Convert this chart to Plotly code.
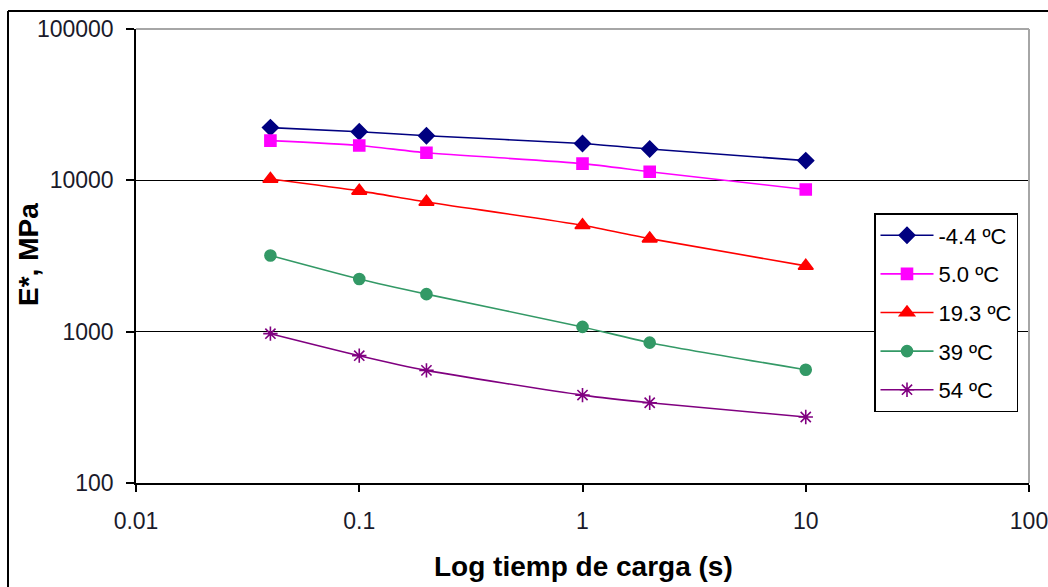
import plotly.graph_objects as go

# Loading times (s) and dynamic modulus E* (MPa) per test temperature
tiempo = [0.04, 0.1, 0.2, 1, 2, 10]
e_m4_4 = [22300, 20950, 19700, 17500, 16100, 13500]
e_5_0 = [18300, 17000, 15200, 12900, 11400, 8700]
e_19_3 = [10200, 8520, 7200, 5050, 4120, 2720]
e_39 = [3190, 2230, 1770, 1075, 846, 560]
e_54 = [970, 694, 555, 381, 339, 273]

series_names = ["-4.4 ºC", "5.0 ºC", "19.3 ºC", "39 ºC", "54 ºC"]
x_ticks = [0.01, 0.1, 1, 10, 100]
y_ticks = [100, 1000, 10000, 100000]

FONT = "Arial, 'Liberation Sans', sans-serif"

styles = [
    dict(color="#000080", symbol="diamond", size=12),
    dict(color="#FF00FF", symbol="square", size=11),
    dict(color="#FF0000", symbol="triangle-up", size=13),
    dict(color="#339966", symbol="circle", size=11),
    dict(color="#800080", symbol="asterisk-open", size=12),
]

fig = go.Figure()
for i, (name, vals, st) in enumerate(zip(series_names, [e_m4_4, e_5_0, e_19_3, e_39, e_54], styles)):
    fig.add_trace(go.Scatter(
        x=tiempo, y=vals, name=name, mode="lines+markers",
        legendgroup=f"g{i}",
        line=dict(color=st["color"], width=1.6, shape="spline", smoothing=0.6),
        marker=dict(symbol=st["symbol"], size=st["size"], color=st["color"],
                    line=dict(color=st["color"], width=1.6)),
    ))

L, R, T, B = 136, 19, 29, 104
W, H = 1048, 587
pw, ph = W - L - R, H - T - B

def px_x(p):
    return (p - L) / pw

def px_y(p):
    return (H - B - p) / ph

fig.update_layout(
    width=W, height=H,
    margin=dict(l=L, r=R, t=T, b=B, autoexpand=False),
    paper_bgcolor="white", plot_bgcolor="white",
    font=dict(family=FONT, color="black"),
    showlegend=True,
    legend=dict(
        x=px_x(874), y=px_y(213), xanchor="left", yanchor="top",
        bordercolor="black", borderwidth=1.5, bgcolor="white",
        font=dict(family=FONT, size=22, color="black"),
        traceorder="grouped", tracegroupgap=7, itemwidth=53,
        entrywidth=85,
    ),
    xaxis=dict(
        type="log", range=[-2, 2], tickvals=x_ticks, ticktext=["0.01", "0.1", "1", "10", "100"],
        showgrid=False, showline=True, linecolor="black", linewidth=1.5,
        ticks="outside", ticklen=7, tickwidth=1.5, tickcolor="black",
        tickfont=dict(size=23, color="#1a1a2a"), ticklabelstandoff=10,
        ticklabeloverflow="allow",
        zeroline=False, automargin=False,
    ),
    yaxis=dict(
        type="log", range=[2, 5], tickvals=y_ticks, ticktext=["100", "1000", "10000", "100000"],
        showgrid=True, gridcolor="black", gridwidth=1.2,
        showline=True, linecolor="black", linewidth=1.5,
        ticks="outside", ticklen=8, tickwidth=1.5, tickcolor="black",
        tickfont=dict(size=23, color="#1a1a2a"), ticklabelstandoff=8,
        zeroline=False, automargin=False,
    ),
    annotations=[
        dict(text="<b>Log tiemp de carga (s)</b>", xref="paper", yref="paper",
             x=px_x(583), y=px_y(566), xanchor="center", yanchor="middle",
             showarrow=False, font=dict(size=28, color="black")),
        dict(text="<b>E*, MPa</b>", xref="paper", yref="paper", textangle=-90,
             x=px_x(28), y=px_y(255), xanchor="center", yanchor="middle",
             showarrow=False, font=dict(size=28, color="black")),
    ],
    shapes=[
        # grey frame on top and right of the plot area
        dict(type="line", xref="paper", yref="paper", x0=0, x1=1, y0=1, y1=1,
             line=dict(color="#a6a6a6", width=2), layer="above"),
        dict(type="line", xref="paper", yref="paper", x0=1, x1=1, y0=0, y1=1,
             line=dict(color="#a6a6a6", width=2), layer="above"),
        # outer chart border
        dict(type="line", xref="paper", yref="paper", x0=px_x(8), x1=px_x(8), y0=px_y(600), y1=px_y(11),
             line=dict(color="black", width=2)),
        dict(type="line", xref="paper", yref="paper", x0=px_x(8), x1=px_x(1060), y0=px_y(11), y1=px_y(11),
             line=dict(color="black", width=2)),
    ],
)

fig.write_html("out.html")
